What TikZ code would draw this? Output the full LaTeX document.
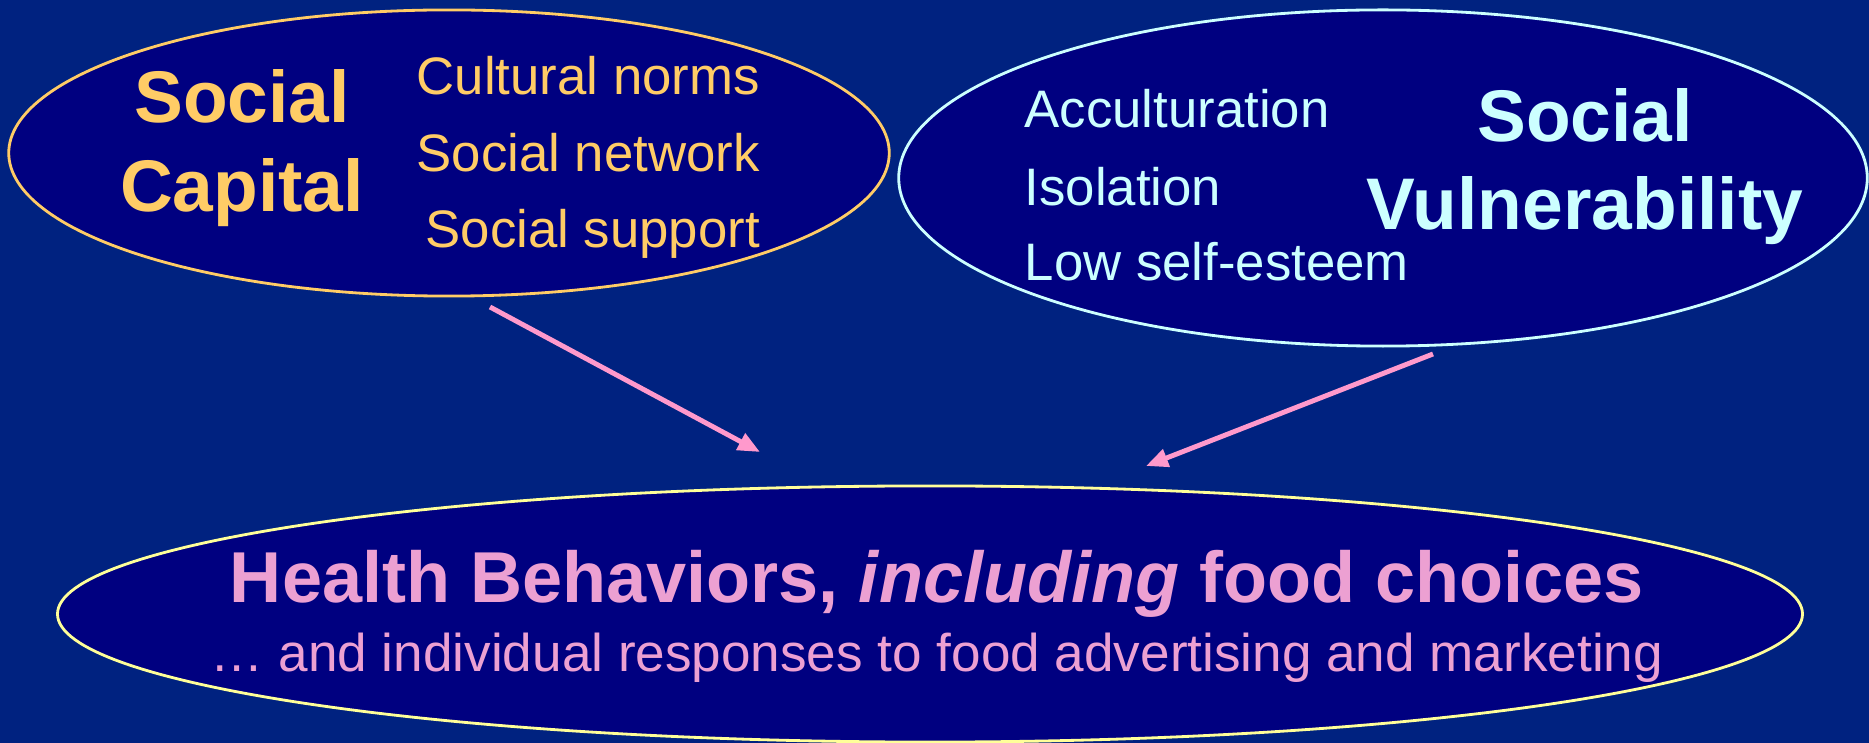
\documentclass[tikz,border=0pt]{standalone}
\usepackage{fontspec}
\setmainfont{Liberation Sans}[BoldItalicFont={Liberation Sans Bold Italic}]
\usetikzlibrary{shapes.geometric,arrows.meta}
\definecolor{slidebg}{RGB}{0,34,128}
\definecolor{navyfill}{RGB}{0,0,128}
\definecolor{capitalgold}{RGB}{255,204,102}
\definecolor{vulncyan}{RGB}{204,255,255}
\definecolor{behavyellow}{RGB}{255,255,153}
\definecolor{behavpink}{RGB}{236,160,210}
\definecolor{arrowpink}{RGB}{255,153,204}
\tikzset{
  bubble/.style={ellipse, draw, fill=navyfill, line width=0.8pt, inner sep=0pt},
  bigword/.style={anchor=base, font=\fontsize{20.8pt}{25pt}\selectfont\bfseries},
  itemword/.style={anchor=base west, inner sep=0pt, font=\fontsize{15pt}{18pt}\selectfont},
  influence/.style={line width=1.4pt, color=arrowpink, -{Triangle[length=0.22cm,width=0.18cm]}}
}
\begin{document}
\begin{tikzpicture}[x=0.01cm,y=-0.01cm]
\fill[slidebg] (0,0) rectangle (1869,743);
\useasboundingbox (0,0) rectangle (1869,743);
% ELLIPSES
\node[bubble, draw=capitalgold, minimum width=8.80cm, minimum height=2.86cm] at (449,153) (capital) {};
\node[bubble, draw=vulncyan, minimum width=9.68cm, minimum height=3.36cm] at (1383,178) (vulnerability) {};
\node[bubble, draw=behavyellow, minimum width=17.44cm, minimum height=2.56cm] at (930,614) (behaviors) {};
% TEXT
\begin{scope}[text=capitalgold] % Social capital
\node[bigword] at (242,123) (capital_top) {Social};
\node[bigword] at (242,212) (capital_bottom) {Capital};
\node[itemword] at (416,95) (capital_norms) {Cultural norms};
\node[itemword] at (416,172) (capital_network) {Social network};
\node[itemword] at (425,248) (capital_support) {Social support};
\end{scope}
\begin{scope}[text=vulncyan] % Social vulnerability
\node[bigword] at (1585,142) (vuln_top) {Social};
\node[bigword] at (1585,230) (vuln_bottom) {Vulnerability};
\node[itemword] at (1024,128) (vuln_accult) {Acculturation};
\node[itemword] at (1024,206) (vuln_isolation) {Isolation};
\node[itemword] at (1024,281) (vuln_esteem) {Low self-esteem};
\end{scope}
\begin{scope}[text=behavpink] % Health behaviors
\node[anchor=base, font=\fontsize{20.5pt}{24pt}\selectfont\bfseries] at (937,603) (behav_title)
  {Health Behaviors, {\bfseries\itshape including} food choices};
\node[anchor=base, font=\fontsize{15.1pt}{18pt}\selectfont] at (937,672) (behav_sub)
  {… and individual responses to food advertising and marketing};
\end{scope}
% ARROWS
\coordinate (capital_out) at (490,307);
\coordinate (behav_in_left) at (760,452);
\coordinate (vuln_out) at (1433,354);
\coordinate (behav_in_right) at (1146,466);
\draw[influence] (capital_out) -- (behav_in_left);
\draw[influence] (vuln_out) -- (behav_in_right);
\end{tikzpicture}
\end{document}
